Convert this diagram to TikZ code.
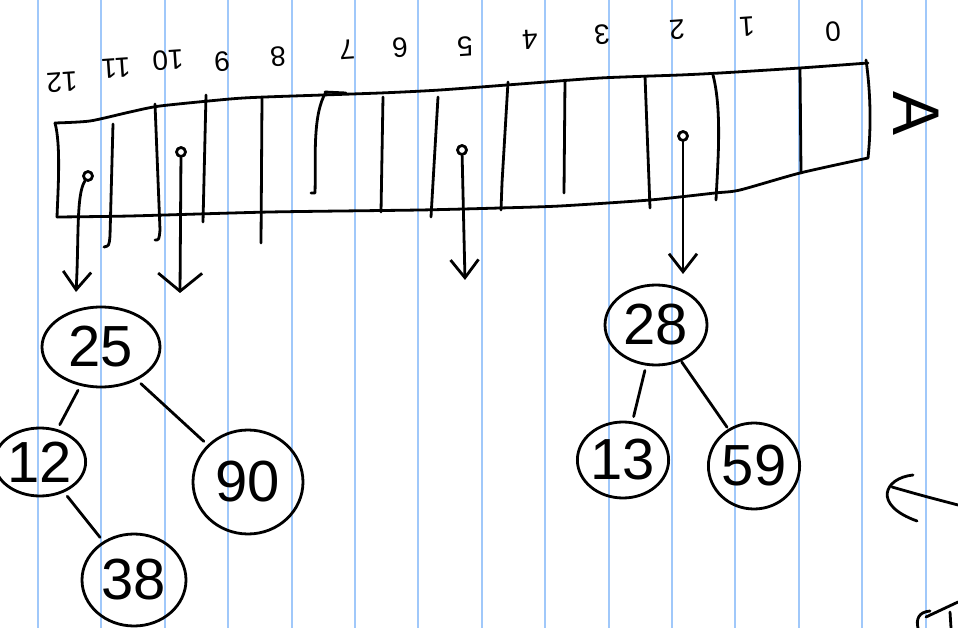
\documentclass[tikz,border=0pt]{standalone}
\usepackage{fontspec}
\setmainfont{Liberation Sans}
\usetikzlibrary{shapes.geometric,arrows.meta}
\definecolor{rulecol}{RGB}{160,200,250}
\begin{document}
\begin{tikzpicture}[x=1pt,y=-1pt, line cap=round, line join=round,
  ink/.style={line width=2.8pt, black},
  tnode/.style={ellipse, draw, line width=2.8pt, inner sep=0pt, font=\fontsize{58}{58}\selectfont},
  idx/.style={rotate=184, font=\fontsize{28}{28}\selectfont, inner sep=0pt},
  pdot/.style={circle, draw, line width=2.8pt, minimum size=9pt, inner sep=0pt},
  ptr/.style={ink, -{Straight Barb[length=18pt,width=28pt,line width=2.8pt]}},
  tedge/.style={ink, shorten <=5pt, shorten >=5pt}]
\useasboundingbox (0,0) rectangle (958,628);
\fill[white] (0,0) rectangle (958,628);
% ruled paper
\foreach \x in {38,101.4,...,958} \draw[rulecol, line width=2pt] (\x,0) -- (\x,628);
% array outline
\draw[ink] plot[smooth, tension=0.4] coordinates {(55,123) (90,121) (130,112) (160,106) (230,99) (265,97) (380,93) (440,90) (520,84) (600,78) (680,75) (720,73) (800,68) (868,63)};
\draw[ink] (55,123) .. controls (61,145) and (58,190) .. (57,217);
\draw[ink] plot[smooth, tension=0.4] coordinates {(57,217) (130,216) (270,212) (420,210) (500,208) (560,206) (650,200) (715,193) (740,190) (800,173) (868,158)};
\draw[ink] (866,60) .. controls (871,95) and (871,130) .. (868,158);
% cell dividers
\draw[ink] (113,124) -- (110,236) .. controls (109,246) .. (104,247);
\draw[ink] (155,104) -- (160,230) .. controls (159,240) .. (155,240);
\draw[ink] (206,95) -- (203,222);
\draw[ink] (262,98) -- (261,243);
\draw[ink] (325,92) -- (346,93);
\draw[ink] (326,92) .. controls (312,115) and (316,160) .. (315,193) -- (311,193);
\draw[ink] (383,97) -- (381,212);
\draw[ink] (438,97) -- (431,217);
\draw[ink] (508,82) -- (502,183) -- (501,210);
\draw[ink] (565,80) -- (564,193);
\draw[ink] (645,76) -- (650,208);
\draw[ink] (713,75) .. controls (722,110) and (718,160) .. (716,200);
\draw[ink] (800,68) -- (801,173);
% index labels (written upside down)
\foreach \t/\x/\y in {12/62/82, 11/116/68, 10/168/60, 9/222/62, 8/278/57, 7/347/50, 6/400/48, 5/465/47, 4/530/40, 3/602/35, 2/677/30, 1/747/27, 0/833/32}
  \node[idx] (i\t) at (\x,\y) {\t};
\node[rotate=-90, font=\fontsize{66}{66}\selectfont, inner sep=0pt] (lblA) at (916,114) {A};
% pointers
\node[pdot] (p0) at (88,176) {};
\node[pdot] (p2) at (181,152) {};
\node[pdot] (p7) at (462,150) {};
\node[pdot] (p11) at (683,136) {};
\coordinate (e0) at (76,292);
\coordinate (e2) at (180,293);
\coordinate (e7) at (465,280);
\coordinate (e11) at (683,274);
\draw[ptr] (p0) .. controls (76,195) and (79,240) .. (e0);
\draw[ink, -{Straight Barb[length=18pt,width=44pt,line width=2.8pt]}] (p2) -- (e2);
\draw[ptr] (p7) -- (e7);
\draw[ptr] (p11) -- (e11);
% trees
\node[tnode, minimum width=118pt, minimum height=80pt] (t25) at (101,347) {25};
\node[tnode, minimum width=84pt, minimum height=68pt] (t12) at (40,462) {12};
\node[tnode, minimum width=110pt, minimum height=104pt] (t90) at (248,482) {90};
\node[tnode, minimum width=104pt, minimum height=92pt] (t38) at (134,580) {38};
\node[tnode, minimum width=102pt, minimum height=80pt] (t28) at (656,325) {28};
\node[tnode, minimum width=90pt, minimum height=76pt] (t13) at (623,460) {13};
\node[tnode, minimum width=88pt, minimum height=86pt] (t59) at (754,466) {59};
\draw[tedge] (t25) -- (t12);
\draw[tedge] (t25) -- (t90);
\draw[tedge] (t12) -- (t38);
\draw[tedge] (t28) -- (t13);
\draw[tedge, shorten <=1pt, shorten >=2pt] (t28) -- (t59);
% partial strokes at the right edge
\draw[ink] (913,475) .. controls (884,478) and (872,505) .. (917,521);
\draw[ink] (892,487) .. controls (920,495) .. (958,505);
\draw[ink] (958,602) -- (926,617);
\draw[ink] (930,611) .. controls (918,612) and (916,620) .. (918,628);
\draw[ink] (950,612) -- (951,628);
\end{tikzpicture}
\end{document}
